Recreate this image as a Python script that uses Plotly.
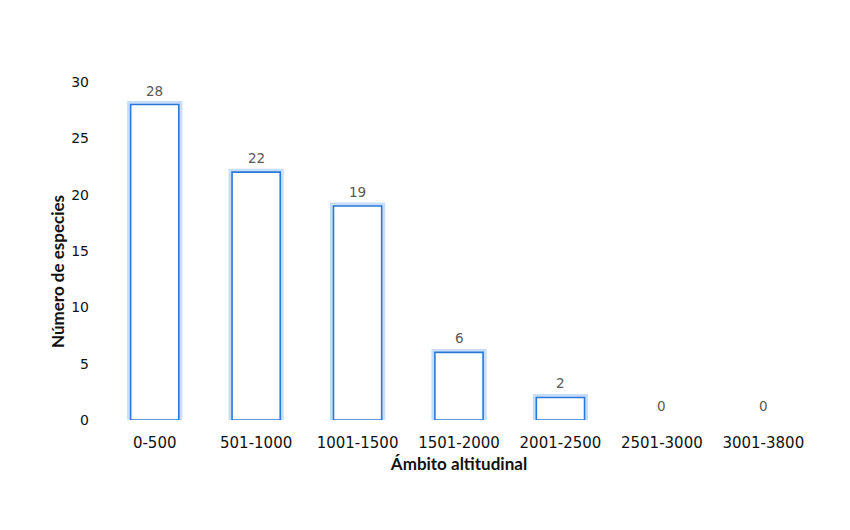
import plotly.graph_objects as go

categories = ["0-500", "501-1000", "1001-1500", "1501-2000", "2001-2500", "2501-3000", "3001-3800"]
especies = [28, 22, 19, 6, 2, 0, 0]
y_ticks = [0, 5, 10, 15, 20, 25, 30]

glow_w = [7 if v > 0 else 0 for v in especies]
line_w = [1.6 if v > 0 else 0 for v in especies]

fig = go.Figure()
# glow layer
fig.add_trace(go.Bar(
    x=categories, y=especies,
    marker=dict(color="rgba(255,255,255,0)", line=dict(color="rgba(110,165,240,0.38)", width=glow_w)),
    hoverinfo="skip", showlegend=False,
))
# main outline
fig.add_trace(go.Bar(
    x=categories, y=especies,
    marker=dict(color="white", line=dict(color="#2b78d8", width=line_w)),
    showlegend=False,
))

annotations = [
    dict(x=c, y=v, xref="x", yref="y", text=str(v), showarrow=False,
         yanchor="middle", yshift=14,
         font=dict(family="DejaVu Sans", size=13.5, color="#595959"))
    for c, v in zip(categories, especies)
]
annotations.append(dict(
    text="<b>Número de especies</b>", textangle=-90,
    x=0, xref="paper", xanchor="center", xshift=-47,
    y=(420 - 272) / 338, yref="paper", yanchor="middle",
    showarrow=False, font=dict(family="Lato", size=17, color="#111111"),
))

fig.update_layout(
    width=850, height=530,
    barmode="overlay", bargap=0.525,
    plot_bgcolor="white", paper_bgcolor="white",
    margin=dict(l=96, r=44, t=74, b=118),
    xaxis=dict(
        showline=False, showgrid=False, ticks="", ticklabelstandoff=12,
        tickfont=dict(family="DejaVu Sans", size=15, color="#111111"),
        title=dict(text="<b>Ámbito altitudinal</b>", font=dict(family="Lato", size=17, color="#111111"), standoff=7),
    ),
    yaxis=dict(
        range=[0, 30], tickvals=y_ticks, showline=False, showgrid=False, zeroline=False,
        ticks="", ticklabelstandoff=14,
        tickfont=dict(family="DejaVu Sans", size=14, color="#111111"),
    ),
    annotations=annotations,
)

fig.write_html("out.html")
